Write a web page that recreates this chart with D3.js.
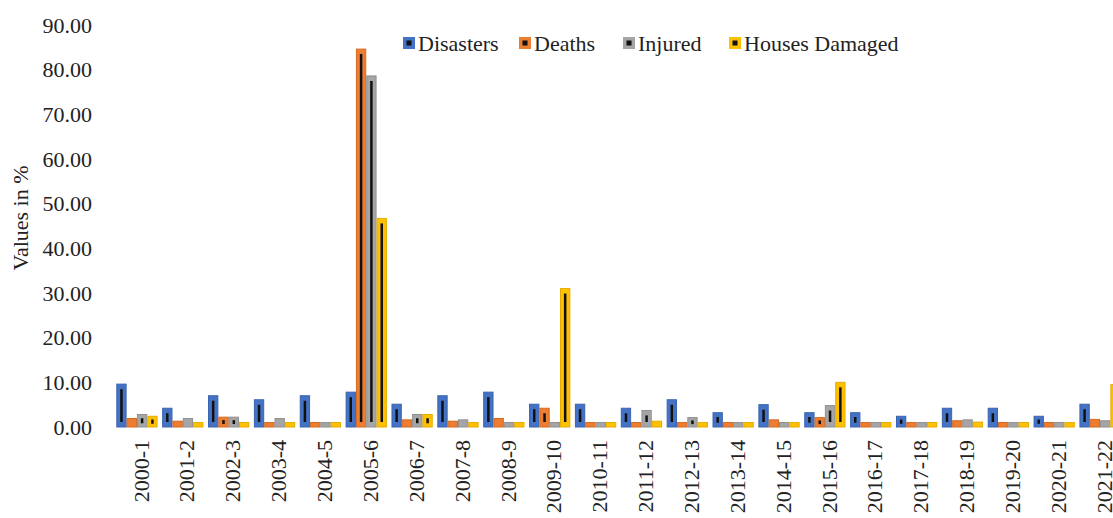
<!DOCTYPE html>
<html>
<head>
<meta charset="utf-8">
<script src="https://cdn.jsdelivr.net/npm/d3@7"></script>
<style>
  body { margin: 0; background: #fff; }
  svg { display: block; }
  text { font-family: "Liberation Serif", "Times New Roman", serif; }
  .axis path, .axis line { display: none; }
  .axis text { font-size: 22px; fill: #222; }
</style>
</head>
<body>
<svg width="1113" height="518"></svg>
<script>
var categories = ["2000-1","2001-2","2002-3","2003-4","2004-5","2005-6","2006-7","2007-8","2008-9","2009-10",
    "2010-11","2011-12","2012-13","2013-14","2014-15","2015-16","2016-17","2017-18","2018-19","2019-20","2020-21","2021-22"];
var seriesNames = ["Disasters", "Deaths", "Injured", "Houses Damaged"];
var disasters = [9.6, 4.2, 7.0, 6.1, 7.0, 7.8, 5.1, 7.0, 7.8, 5.1, 5.1, 4.2, 6.1, 3.2, 5.0, 3.2, 3.2, 2.4, 4.2, 4.2, 2.4, 5.1];
var deaths    = [1.9, 1.3, 2.2, 1.0, 1.0, 84.6, 1.6, 1.3, 1.9, 4.2, 1.0, 1.0, 1.0, 1.0, 1.6, 2.1, 1.0, 1.0, 1.4, 1.0, 1.0, 1.7];
var injured   = [2.8, 1.9, 2.2, 1.9, 1.0, 78.6, 2.8, 1.6, 1.0, 1.0, 1.0, 3.7, 2.1, 1.0, 1.0, 4.8, 1.0, 1.0, 1.6, 1.0, 1.0, 1.4];
var houses    = [2.4, 1.0, 1.0, 1.0, 1.0, 46.7, 2.8, 1.0, 1.0, 31.0, 1.0, 1.3, 1.0, 1.0, 1.0, 10.0, 1.0, 1.0, 1.1, 1.0, 1.0, 9.5];
var yTicks = [0, 10, 20, 30, 40, 50, 60, 70, 80, 90];

(function(){
    var svg = d3.select("svg");
    var colors = ["#4472C4", "#ED7D31", "#A5A5A5", "#FFC000"];
    var strokes = ["#3a64b0", "#d56a22", "#909090", "#e6ad00"];
    var values = [disasters, deaths, injured, houses];
    var FONT = "Liberation Serif, Times New Roman, serif";

    var x0 = d3.scaleBand()
        .domain(categories)
        .range([114, 1123])
        .paddingInner(0.1)
        .paddingOuter(0.05);

    var x1 = d3.scaleBand()
        .domain(seriesNames)
        .range([0, x0.bandwidth()]);

    var y = d3.scaleLinear()
        .domain([0, 90])
        .range([427, 25]);

    // y axis labels
    svg.append("g")
        .attr("class", "axis")
        .attr("transform", "translate(92,0)")
        .call(d3.axisLeft(y).tickValues(yTicks).tickSize(0).tickPadding(0)
            .tickFormat(function(d){ return d3.format(".2f")(d); }))
        .attr("font-family", FONT);

    // x axis labels (rotated)
    var xa = svg.append("g")
        .attr("class", "axis")
        .attr("transform", "translate(0,437)")
        .call(d3.axisBottom(x0).tickSize(0).tickPadding(0))
        .attr("font-family", FONT);
    xa.selectAll(".tick text")
        .attr("transform", "translate(4,0) rotate(-90)")
        .attr("text-anchor", "end")
        .attr("dy", "0.35em")
        .attr("y", 0)
        .attr("x", -3);

    // y axis title
    svg.append("text")
        .attr("transform", "translate(20,218) rotate(-90)")
        .attr("text-anchor", "middle")
        .attr("dy", "0.35em")
        .style("font-size", "22px")
        .style("fill", "#222")
        .text("Values in %");

    // bars
    seriesNames.forEach(function(name, s){
        var g = svg.append("g");
        g.selectAll("rect")
            .data(values[s])
            .enter().append("rect")
            .attr("x", function(d, i){ return x0(categories[i]) + x1(name) + 0.5; })
            .attr("y", function(d){ return y(d); })
            .attr("width", x1.bandwidth() - 1)
            .attr("height", function(d){ return y(0) - y(d); })
            .attr("fill", colors[s])
            .attr("stroke", strokes[s])
            .attr("stroke-width", 1);

        // dark stripe in the middle of each bar
        values[s].forEach(function(d, i){
            var h = y(0) - y(d);
            if (h <= 9) return;
            var pad = Math.min(5, h * 0.3);
            var cx = x0(categories[i]) + x1(name) + x1.bandwidth() / 2;
            g.append("line")
                .attr("x1", cx).attr("x2", cx)
                .attr("y1", y(d) + pad)
                .attr("y2", y(0) - pad)
                .attr("stroke", "#111")
                .attr("stroke-width", 2.5);
        });
    });

    // legend
    var legendX = [403, 519, 623, 729];
    seriesNames.forEach(function(name, s){
        var lg = svg.append("g")
            .attr("transform", "translate(" + legendX[s] + ",43)");
        lg.append("rect")
            .attr("x", 0).attr("y", -6)
            .attr("width", 12).attr("height", 12)
            .attr("fill", colors[s]);
        lg.append("rect")
            .attr("x", 3.5).attr("y", -2.5)
            .attr("width", 5).attr("height", 5)
            .attr("fill", "#111");
        lg.append("text")
            .attr("x", 15)
            .attr("y", 0)
            .attr("dy", "0.35em")
            .style("font-size", "22px")
            .style("fill", "#222")
            .text(name);
    });
}());
</script>
</body>
</html>
